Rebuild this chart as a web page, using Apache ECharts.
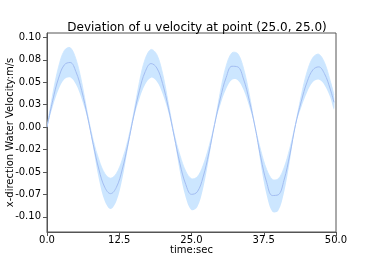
<!DOCTYPE html>
<html>
<head>
<meta charset="utf-8">
<script src="https://cdn.jsdelivr.net/npm/echarts@6/dist/echarts.min.js"></script>
<style>html,body{margin:0;padding:0;background:#fff}#c{width:374px;height:260px}</style>
</head>
<body>
<div id="c"></div>
<script>
const titleText = "Deviation of u velocity at point (25.0, 25.0)";
const xName = "time:sec";
const yName = "x-direction Water Velocity:m/s";
const time = [0,1,2,3,4,5,6,7,8,9,10,11,12,13,14,15,16,17,18,19,20,21,22,23,24,25,26,27,28,29,30,31,32,33,34,35,36,37,38,39,40,41,42,43,44,45,46,47,48,49,49.65];
const meanVel = [0,0.0300,0.0546,0.0695,0.0721,0.0619,0.0407,0.0123,-0.0192,-0.0477,-0.0672,-0.0742,-0.0672,-0.0477,-0.0192,0.0125,0.0412,0.0620,0.0709,0.0660,0.0485,0.0216,-0.0099,-0.0407,-0.0638,-0.0750,-0.0722,-0.0558,-0.0290,0.0031,0.0324,0.0555,0.0679,0.0672,0.0536,0.0296,0,-0.0343,-0.0615,-0.0763,-0.0755,-0.0593,-0.0311,0.0027,0.0289,0.0504,0.0639,0.0672,0.0597,0.0425,0.0277];
const devVel = [0,0.0069,0.0126,0.0160,0.0166,0.0142,0.0094,0.0028,0.0044,0.0110,0.0155,0.0172,0.0155,0.0110,0.0044,0.0029,0.0095,0.0143,0.0157,0.0150,0.0112,0.0050,0.0023,0.0094,0.0147,0.0175,0.0168,0.0129,0.0067,0.0007,0.0075,0.0128,0.0150,0.0148,0.0120,0.0068,0,0.0079,0.0142,0.0180,0.0178,0.0138,0.0072,0.0006,0.0066,0.0114,0.0137,0.0142,0.0126,0.0092,0.0080];
const yTickValues = [-0.1,-0.075,-0.05,-0.025,0,0.025,0.05,0.075,0.1];
const yTickLabels = ["-0.10","-0.07","-0.05","-0.02","0.00","0.03","0.05","0.08","0.10"];
const xTickLabels = ["0.0","12.5","25.0","37.5","50.0"];

const meanData = time.map((t,i)=>[t, meanVel[i]]);

const font = "DejaVu Sans";
const chart = echarts.init(document.getElementById('c'), null, {renderer:'canvas'});
chart.setOption({
  animation:false,
  title:{text:titleText,left:192,top:17,textAlign:'center',textStyle:{fontFamily:font,fontSize:12,fontWeight:'normal',color:'#000'}},
  grid:{left:47,right:38,top:33,bottom:28,outerBoundsMode:'none',containLabel:false,show:true,borderColor:'#555',borderWidth:1,backgroundColor:'transparent'},
  xAxis:{type:'value',min:0,max:50,interval:12.5,
    name:xName,nameLocation:'middle',nameGap:13,nameMoveOverlap:false,nameTextStyle:{fontFamily:font,fontSize:10,color:'#000'},
    axisLine:{onZero:false,lineStyle:{color:'#555'}},axisTick:{length:4,lineStyle:{color:'#555'}},
    axisLabel:{margin:3,fontFamily:font,fontSize:10,color:'#000',formatter:(v)=>{const i=Math.round(v/12.5);return xTickLabels[i]!==undefined?xTickLabels[i]:'';}},
    splitLine:{show:false}},
  yAxis:{type:'value',min:-0.117,max:0.105,
    name:yName,nameLocation:'middle',nameGap:32,nameMoveOverlap:false,nameTextStyle:{fontFamily:font,fontSize:10,color:'#000'},
    axisLine:{show:true,onZero:false,lineStyle:{color:'#555'}},
    axisTick:{show:true,length:4,customValues:yTickValues,lineStyle:{color:'#555'}},
    axisLabel:{margin:6,fontFamily:font,fontSize:10,color:'#000',customValues:yTickValues,
      formatter:(v)=>{let k=-1;yTickValues.forEach((tv,j)=>{if(Math.abs(tv-v)<1e-6)k=j;});return k>=0?yTickLabels[k]:'';}},
    splitLine:{show:false}},
  series:[
    {type:'custom',silent:true,clip:true,data:[[0,0]],
      renderItem:(params, api)=>{
        if(params.dataIndex!==0) return;
        const up = time.map((t,i)=>api.coord([t, meanVel[i]+devVel[i]]));
        const lo = time.map((t,i)=>api.coord([t, meanVel[i]-devVel[i]])).reverse();
        return {type:'group',children:[
          {type:'polyline',shape:{points:up,smooth:0.35},style:{fill:'none',stroke:'#cce6ff',lineWidth:0.8}},
          {type:'polygon',shape:{points:up.concat(lo),smooth:0.35},style:{fill:'#cce6ff',stroke:null}}
        ]};
      }},
    {type:'line',data:meanData,smooth:0.4,symbol:'none',lineStyle:{color:'#a3bdf2',width:1},silent:true}
  ]
});
</script>
</body>
</html>
